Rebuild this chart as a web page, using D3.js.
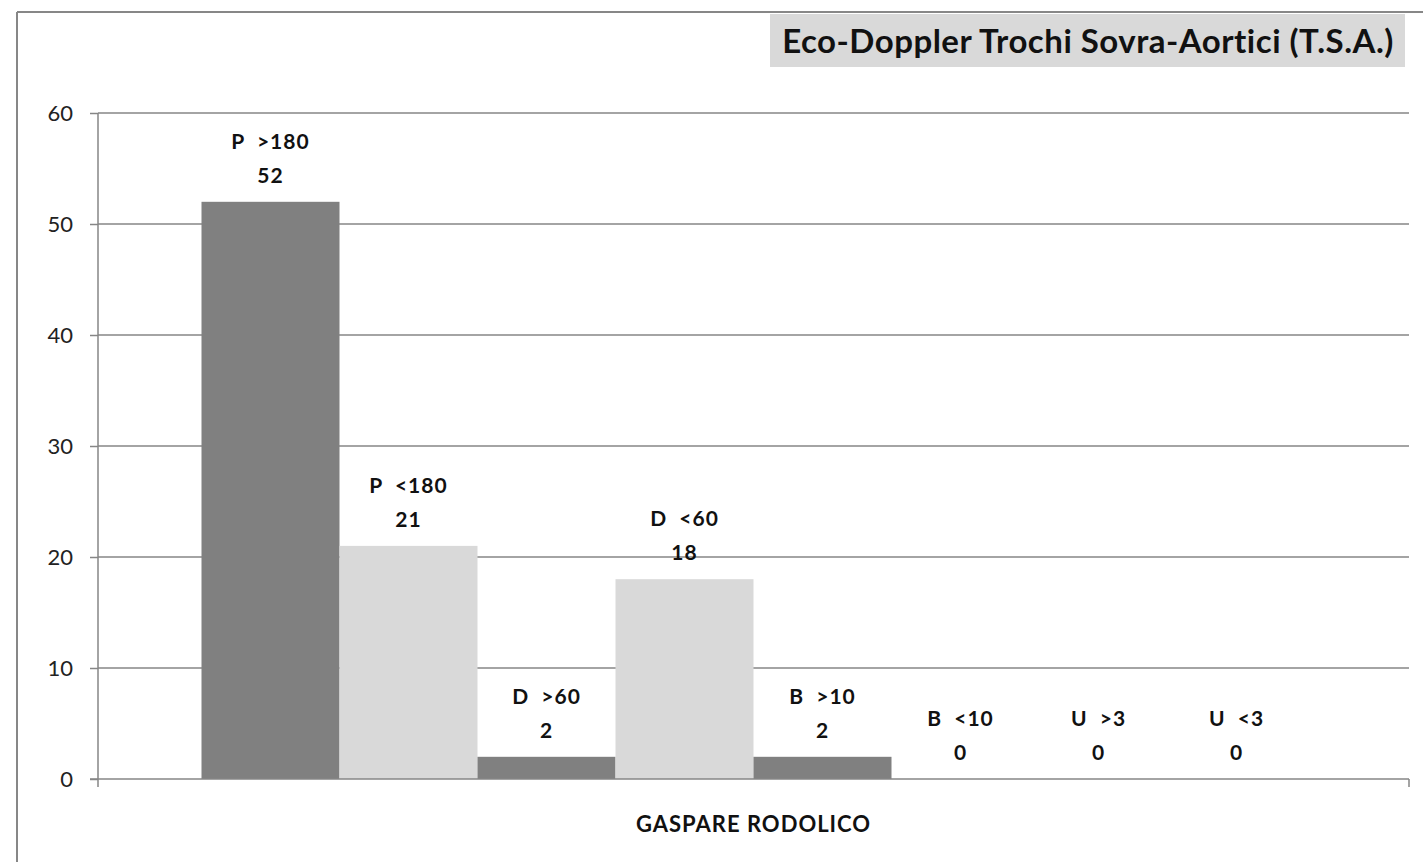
<!DOCTYPE html>
<html><head><meta charset="utf-8">
<script src="https://cdn.jsdelivr.net/npm/d3@7"></script>
<style>
body{margin:0;background:#fff;}
text{font-family:Lato,"Open Sans",sans-serif;white-space:pre;}
</style></head>
<body><svg id="c" width="1423" height="862"></svg>
<script>
const title = "Eco-Doppler Trochi Sovra-Aortici (T.S.A.)";
const category = "GASPARE RODOLICO";
const seriesNames = ["P  >180","P  <180","D  >60","D  <60","B  >10","B  <10","U  >3","U  <3"];
const seriesValues = [52,21,2,18,2,0,0,0];
const seriesColors = ["#808080","#D9D9D9","#808080","#D9D9D9","#808080","#D9D9D9","#808080","#D9D9D9"];
const yTicks = [0,10,20,30,40,50,60];

const svg = d3.select("#c");
// outer frame
svg.append("line").attr("x1",17).attr("x2",1423).attr("y1",12).attr("y2",12).attr("stroke","#878787").attr("stroke-width",2);
svg.append("line").attr("x1",17).attr("x2",17).attr("y1",12).attr("y2",862).attr("stroke","#878787").attr("stroke-width",2);

const m = {l:98, r:1409, t:113, b:779};
const y = d3.scaleLinear().domain([0,60]).range([m.b,m.t]);
const x0 = d3.scaleBand().domain([category]).range([m.l,m.r]).paddingInner(0).paddingOuter(0);
const gap = 1.5;
const x1 = d3.scaleBand().domain(seriesNames).range([0, x0.bandwidth()*8/(8+gap)]).padding(0);
const off = x0(category) + (x0.bandwidth() - x1.range()[1])/2;

// y axis ticks + labels
const yAxis = d3.axisLeft(y).tickValues(yTicks).tickSize(8).tickPadding(17).tickFormat(d3.format("d"));
const ga = svg.append("g").attr("transform",`translate(${m.l},0)`).call(yAxis);
ga.select(".domain").remove();
ga.selectAll(".tick line").attr("stroke","#868686").attr("stroke-width",1.5);
ga.selectAll(".tick text").attr("font-size",22).attr("fill","#222").attr("font-family","Lato,sans-serif");
// gridlines
svg.append("g").selectAll("line").data(yTicks.filter(d=>d>0)).join("line")
  .attr("x1",m.l).attr("x2",m.r).attr("y1",d=>y(d)).attr("y2",d=>y(d))
  .attr("stroke","#868686").attr("stroke-width",1.5);

// bars
svg.append("g").selectAll("rect").data(seriesNames).join("rect")
  .attr("x",(d)=>off + x1(d)).attr("width",x1.bandwidth())
  .attr("y",(d,i)=>y(seriesValues[i])).attr("height",(d,i)=>m.b - y(seriesValues[i]))
  .attr("fill",(d,i)=>seriesColors[i]);

// axes lines
svg.append("line").attr("x1",m.l).attr("x2",m.l).attr("y1",m.t).attr("y2",m.b+8).attr("stroke","#868686").attr("stroke-width",1.5);
svg.append("line").attr("x1",m.l-8).attr("x2",m.r).attr("y1",m.b).attr("y2",m.b).attr("stroke","#868686").attr("stroke-width",1.5);
svg.append("line").attr("x1",m.r).attr("x2",m.r).attr("y1",m.b).attr("y2",m.b+8).attr("stroke","#868686").attr("stroke-width",1.5);

// data labels
const lab = svg.append("g").selectAll("g").data(seriesNames).join("g")
  .attr("transform",(d,i)=>`translate(${off + x1(d) + x1.bandwidth()/2},${y(seriesValues[i])})`);
lab.append("text").attr("text-anchor","middle").attr("y",-53).attr("font-size",21).attr("letter-spacing",1).attr("font-weight","bold").attr("fill","#111").text(d=>d);
lab.append("text").attr("text-anchor","middle").attr("y",-19).attr("font-size",21).attr("letter-spacing",1).attr("font-weight","bold").attr("fill","#111").text((d,i)=>seriesValues[i]);

// category label
svg.append("text").attr("x",x0(category)+x0.bandwidth()/2).attr("y",832).attr("text-anchor","middle")
  .attr("font-size",22).attr("letter-spacing",1).attr("font-weight","bold").attr("fill","#111").text(category);

// title box
svg.append("rect").attr("x",770).attr("y",14).attr("width",635).attr("height",53).attr("fill","#D9D9D9");
svg.append("text").attr("x",1088).attr("y",53).attr("text-anchor","middle").attr("font-size",33).attr("letter-spacing",0.5).attr("font-weight","bold").attr("fill","#111").text(title);
</script></body></html>
